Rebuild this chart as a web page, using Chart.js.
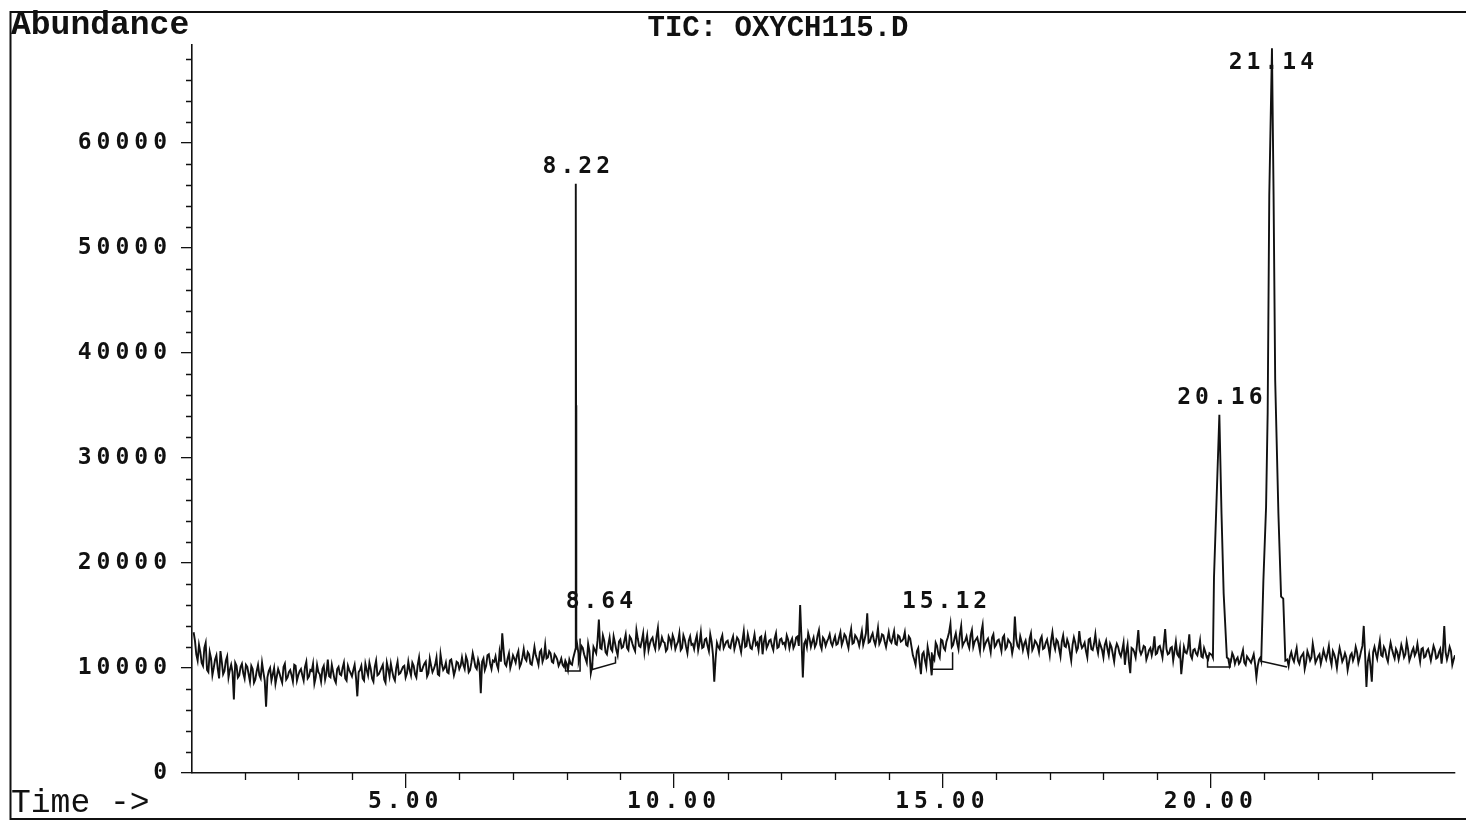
<!DOCTYPE html>
<html><head><meta charset="utf-8">
<script src="https://cdn.jsdelivr.net/npm/chart.js@4.4.1/dist/chart.umd.min.js"></script>
<style>html,body{margin:0;padding:0;background:#fff;}canvas{display:block;}</style>
</head><body>
<canvas id="c" width="1466" height="821"></canvas>
<script>
// ---------- DATA ----------
const chartTitle = 'TIC: OXYCH115.D';
const yTitle = 'Abundance';
const xTitle = 'Time ->';
const xTicks = [5, 10, 15, 20];
const yTicks = [0, 10000, 20000, 30000, 40000, 50000, 60000];
const xMin = 1.02, xMax = 24.55, yMin = 0, yMax = 69300;

// baseline scans A: one value every 0.05 min from 1.05 min (null = replaced by a peak)
const baselineAStart = 1.05, baselineStep = 0.05;
const baselineA = [
 // 1.05 - 2.00
 13400,11300,12200,10500,11900,9800,11500,9300,10800,9900,11600,9400,10700,9100,10300,7000,10200,9300,10400,9000,
 // 2.05 - 3.00
 10100,8700,9900,8900,10300,9000,9600,6300,9700,8800,10000,9200,9500,8600,10400,9100,9800,8700,10200,9300,
 // 3.05 - 4.00
 9900,8800,10600,9200,9700,8500,10300,9400,9900,8900,10800,9100,9600,8600,10100,9300,10500,8800,9800,9200,
 // 4.05 - 5.00
 10300,7300,9800,9000,10400,9300,9900,8700,10700,9400,10000,8900,10500,9200,9700,8800,10600,9500,10100,9100,
 // 5.05 - 6.00
 10600,9300,10200,9100,11000,9700,10400,9200,10900,9600,10300,9400,11300,9800,10500,9500,10800,9300,10600,9900,
 // 6.05 - 7.00
 11000,9900,10700,9800,11400,10100,10800,7600,10900,10200,11300,9900,10600,10300,11500,13300,10400,10900,10000,11200,
 // 7.05 - 8.00
 10500,11600,10400,11800,10700,11300,10300,12000,10800,11500,10600,12200,11000,11400,10500,11100,10200,10900,10100,10400,
 // 8.05 - 9.00
 10800,10300,null,null,11100,11900,10900,12300,9500,12000,11400,14600,11800,12600,11300,12900,11600,12400,11200,12700,
 // 9.05 - 10.00
 12000,13200,11700,12800,11900,13600,12100,12600,11500,13100,12300,12900,11800,13800,12200,12500,11600,13000,12100,12700,
 // 10.05 - 11.00
 12200,13300,11900,12700,11400,13000,12300,12600,11700,13400,12000,12800,11600,12500,8700,12400,11800,13100,12200,12600,
 // 11.05 - 12.00
 11900,13000,12300,12700,11500,13500,12100,12600,11800,13200,12400,12900,11300,13100,12200,12700,11700,13300,12000,12800,
 // 12.05 - 13.00
 12400,13100,11900,12800,12200,13000,16000,9100,12600,13300,12000,12900,12300,13600,11800,12700,12500,13200,12100,13000,
 // 13.05 - 14.00
 12300,13400,12600,13000,11900,13700,12400,12900,12100,13500,12700,15200,12500,13300,12200,13800,12600,13100,12000,13400,
 // 14.05 - 15.00
 12400,13500,12200,13000,12600,13400,12100,12800,11200,10300,11900,9400,11500,10100,11300,9300,10800,12100,11000,12600,
 // 15.05 - 16.00
 11700,12900,14200,12200,13300,11800,14000,12400,13000,11900,13600,12500,12900,11600,14100,12300,12800,11500,13200,12200,
 // 16.05 - 17.00
 12700,11600,13100,12000,12500,11400,14900,12100,13000,11700,12600,11300,13300,12000,12400,11500,13000,11900,12700,11200,
 // 17.05 - 18.00
 13400,11800,12500,11100,13100,12000,12300,10700,12900,11600,13500,11900,12400,11000,12800,11700,13200,11400,12100,11000,
 // 18.05 - 19.00
 12600,11200,12000,10600,12300,11400,11700,10300,12200,9500,11800,11000,13600,11300,12100,10800,11700,11200,13000,11400,
 // 19.05 - 20.00
 12100,11000,13700,11300,11900,10700,12500,11100,9400,12000,11400,13200,10900,11800,11200,12600,11000,11500,10800,11300,
 // 20.05 - 21.00
 null,null,null,null,null,null,10200,11400,10400,11000,10600,11700,10300,10900,10500,11300,9100,10800,null,null,
 // 21.05 - 22.00
 null,null,null,null,null,null,null,null,10200,11500,10600,11900,10400,11200,9900,11600,10700,12300,10500,11100,
 // 22.05 - 23.00
 10400,11700,10800,12100,10300,11300,10000,11900,10600,11400,9800,11200,10700,12000,10500,11600,14000,8200,11300,8700,
 // 23.05 - 24.00
 12000,10900,12600,11100,11700,10600,12400,11300,11800,10800,12200,11000,12500,10700,11600,11200,12300,10600,11900,11100,
 // 24.05 - 24.55
 11800,10700,12100,10900,11500,10400,14000,10800,12000,10300,11200
];

// baseline scans B: the scans in between, one value every 0.05 min from 1.075 min
const baselineBStart = 1.075;
const baselineB = [
 // 1.075 - 2.025
 12600,10700,11500,10200,12400,9600,10900,10000,11200,9000,10600,9700,11100,9800,9600,10500,9100,10100,9500,10300,
 // 2.075 - 3.025
 9400,10200,8600,9700,9300,10500,8800,9100,10000,9400,8500,9900,9000,10100,8900,9600,9300,10300,8800,9700,
 // 3.075 - 4.025
 9300,10100,9000,9800,10400,9100,9600,8700,10200,9500,9200,10300,8900,9900,9400,10000,9000,10200,9500,9800,
 // 4.075 - 5.025
 9100,9600,10200,8800,9800,10500,9000,10100,9300,9700,10300,8600,9900,10400,9100,10000,9400,9800,10200,9500,
 // 5.075 - 6.025
 9800,10500,9400,10300,9700,10100,10600,9500,10200,9900,11000,9300,10400,10000,9600,10700,10100,9800,10500,10200,
 // 6.075 - 7.025
 10300,11100,9600,10500,10800,9900,10300,10600,9800,11200,10400,10700,11100,9900,10600,11700,10200,11400,10500,10900,
 // 7.075 - 8.025
 11200,10100,11000,10900,11500,10400,11100,11200,10300,11700,11000,10900,11600,10600,11300,10800,10500,10300,10700,9800,
 // 8.075 - 9.025
 10400,null,null,10600,12100,11300,10500,11600,10200,11700,12600,11900,13100,11500,12200,11800,13000,11700,12500,11900,
 // 9.075 - 10.025
 12600,11900,13000,12300,11600,12800,12000,13300,12400,11700,12700,12200,13000,11900,12900,12400,11800,12700,13100,11800,
 // 10.075 - 11.025
 12500,11700,13100,12000,12600,12200,11800,13100,12400,11900,12700,12100,13200,11300,10900,12000,12700,11900,12500,12000,
 // 11.075 - 12.025
 12600,11800,12900,12100,12600,12000,13200,11900,12500,12200,11700,13000,12500,11900,12600,12100,12800,11900,12700,12300,
 // 12.075 - 13.025
 12000,12700,12500,11900,12900,12100,12700,12300,12000,12800,12500,12000,13100,12200,12900,12100,12800,12400,12600,12200,
 // 13.075 - 14.025
 12900,12200,13200,12400,13000,12300,13100,12600,12800,12200,13300,12400,13000,12600,12900,12300,13200,12500,12700,12600,
 // 14.075 - 15.025
 12900,12300,13100,12500,12800,12200,13000,12000,10800,11600,10500,11300,10700,12000,10600,11100,12400,11300,12700,11900,
 // 15.075 - 16.025
 12500,13400,12000,12800,12400,13200,12100,12600,12300,13100,12000,12700,12300,13400,11900,12600,12200,12900,12000,12600,
 // 16.075 - 17.025
 12200,12900,11800,12700,12300,12100,12800,11900,12500,12300,11900,12800,11700,12600,12100,12700,11800,12400,12000,12600,
 // 17.075 - 18.025
 12300,12700,11800,12500,12100,12700,11500,12200,12400,11900,12400,12100,11600,12700,11800,12300,12000,12500,11700,12200,
 // 18.075 - 19.025
 11800,12300,11300,11800,12000,11100,12400,11500,10600,11900,11500,12200,11700,11600,12000,11200,11900,11800,11300,12000,
 // 19.075 - 20.025
 11600,12300,11800,11400,12000,11600,11300,11900,10700,11500,11900,11200,11700,11400,11800,11100,11900,11000,11400,11200,
 // 20.075 - 21.025
 null,null,null,null,null,10900,10600,11100,10800,10400,11200,10500,11100,10700,10900,10400,10200,11000,null,null,
 // 21.075 - 22.025
 null,null,null,null,null,null,null,10800,11100,10900,11300,10700,11000,11400,10500,11200,11000,11500,10800,11300,
 // 22.075 - 23.025
 11000,11200,11400,10900,11600,10800,11100,11300,10900,11000,10500,11400,11100,11500,11000,12100,11300,10600,10200,11500,
 // 23.075 - 24.025
 11400,11800,11200,12000,11000,11600,11800,10900,11500,11400,11700,11300,11800,11100,11900,11500,11400,11800,11000,11600,
 // 24.075 - 24.525
 11300,11400,11700,11000,11800,11600,11500,11300,11600,10800
];

// peaks (time in min, abundance)
const peak822Times  = [8.12, 8.165, 8.17, 8.175, 8.18, 8.22];
const peak822Values = [10900, 11800, 56100, 35000, 12800, 11400];
const peak2016Times  = [20.04, 20.06, 20.16, 20.20, 20.24, 20.30];
const peak2016Values = [11000, 18600, 34100, 24700, 17100, 11000];
const peak2114Times  = [20.94, 20.98, 21.03, 21.06, 21.09, 21.14, 21.17, 21.20, 21.26, 21.31, 21.35, 21.39];
const peak2114Values = [10700, 18300, 25300, 34300, 55000, 69000, 55000, 37400, 24700, 16800, 16600, 10700];

// integration baselines
const mark822Times  = [7.98, 7.98, 8.25, 8.25];     const mark822Values  = [10600, 9720, 9720, 12800];
const mark864Times  = [8.48, 8.48, 8.91, 8.91];     const mark864Values  = [10500, 9850, 10480, 11100];
const mark1512Times = [14.80, 14.80, 15.19, 15.19]; const mark1512Values = [11500, 9880, 9880, 11500];
const mark2016Times = [19.94, 19.94, 20.36, 20.36]; const mark2016Values = [11200, 10100, 10100, 10900];
const mark2114Times = [20.92, 21.42];               const mark2114Values = [10670, 10100];

// peak labels
const peakLabels      = ['8.22', '8.64', '15.12', '20.16', '21.14'];
const peakLabelTimes  = [8.17, 8.60, 15.03, 20.16, 21.12];
const peakLabelApex   = [56100, 14700, 14700, 34100, 69000];

// ---------- BUILD ----------
const pts = (ts, vs) => ts.map((t, i) => ({x: t, y: vs[i]}));
const trace = [];
const addScans = (arr, start) => arr.forEach((v, i) => {
  if (v !== null) trace.push({x: +(start + i * baselineStep).toFixed(3), y: v});
});
addScans(baselineA, baselineAStart);
addScans(baselineB, baselineBStart);
trace.push(...pts(peak822Times, peak822Values), ...pts(peak2016Times, peak2016Values), ...pts(peak2114Times, peak2114Values));
trace.sort((a, b) => a.x - b.x);

const INK = '#111';
const markDs = (ts, vs) => ({data: pts(ts, vs), borderColor: INK, borderWidth: 1.5, pointRadius: 0, tension: 0, fill: false});

const MONO_NUM = '"DejaVu Sans Mono", monospace';
const MONO_TXT = '"Liberation Mono", "DejaVu Sans Mono", monospace';

function spacedText(ctx, txt, x, y, font, align, spacing) {
  ctx.save();
  ctx.font = font; ctx.fillStyle = INK; ctx.textAlign = align; ctx.textBaseline = 'middle';
  try { ctx.letterSpacing = spacing; } catch (e) {}
  ctx.fillText(txt, x, y);
  ctx.restore();
}

const decor = {
  id: 'decor',
  afterUpdate(chart) {
    for (const id of ['x', 'y']) {
      const s = chart.scales[id];
      if (s && !s.__patched) {
        const orig = s.drawLabels;
        s.drawLabels = function (area) {
          const c = this.ctx; const prev = c.letterSpacing;
          try { c.letterSpacing = '5px'; } catch (e) {}
          orig.call(this, area);
          try { c.letterSpacing = prev; } catch (e) {}
        };
        s.__patched = true;
      }
    }
  },
  afterDraw(chart) {
    const {ctx} = chart; const x = chart.scales.x, y = chart.scales.y;
    ctx.save();
    ctx.strokeStyle = INK; ctx.lineWidth = 1.3;
    ctx.beginPath();
    for (let m = 2; m <= 23; m++) {
      if (xTicks.includes(m)) continue;
      const px = Math.round(x.getPixelForValue(m)) + 0.5;
      ctx.moveTo(px, y.bottom); ctx.lineTo(px, y.bottom + 7);
    }
    for (let v = 2000; v <= 68000; v += 2000) {
      if (v % 10000 === 0) continue;
      const py = Math.round(y.getPixelForValue(v)) + 0.5;
      ctx.moveTo(x.left - 6, py); ctx.lineTo(x.left, py);
    }
    ctx.stroke();
    // outer frame
    ctx.lineWidth = 2;
    ctx.beginPath();
    ctx.moveTo(1466, 12); ctx.lineTo(10.5, 12); ctx.lineTo(10.5, 819); ctx.lineTo(1466, 819);
    ctx.stroke();
    ctx.restore();

    spacedText(ctx, yTitle, 11, 26, 'bold 33px ' + MONO_TXT, 'left', '0px');
    spacedText(ctx, chartTitle, 778, 29, 'bold 29px ' + MONO_TXT, 'center', '0px');
    spacedText(ctx, xTitle, 11, 803, '33px ' + MONO_TXT, 'left', '0px');

    peakLabels.forEach((lab, i) => {
      const px = x.getPixelForValue(peakLabelTimes[i]);
      const py = Math.max(y.getPixelForValue(peakLabelApex[i]) - 17, 63);
      spacedText(ctx, lab, px + 2.5, py, 'bold 23px ' + MONO_NUM, 'center', '4px');
    });
  }
};

new Chart(document.getElementById('c'), {
  type: 'line',
  data: {
    datasets: [
      {data: trace, borderColor: INK, borderWidth: 1.9, pointRadius: 0, tension: 0, fill: false},
      markDs(mark822Times, mark822Values),
      markDs(mark864Times, mark864Values),
      markDs(mark1512Times, mark1512Values),
      markDs(mark2016Times, mark2016Values),
      markDs(mark2114Times, mark2114Values)
    ]
  },
  options: {
    responsive: false, animation: false, parsing: true,
    layout: {padding: {left: 0, right: 11, top: 45, bottom: 0}},
    plugins: {legend: {display: false}, tooltip: {enabled: false}, title: {display: false}},
    elements: {line: {borderJoinStyle: 'miter'}},
    scales: {
      x: {
        type: 'linear', min: xMin, max: xMax,
        afterBuildTicks: s => { s.ticks = xTicks.map(v => ({value: v})); },
        afterFit: s => { s.height = 48; },
        ticks: {callback: v => v.toFixed(2), color: INK, font: {family: MONO_NUM, size: 23, weight: 'bold'}, padding: 0, maxRotation: 0, autoSkip: false},
        grid: {drawOnChartArea: false, drawTicks: true, tickLength: 15, color: INK, lineWidth: 1.3},
        border: {display: true, color: INK, width: 1.6}
      },
      y: {
        type: 'linear', min: yMin, max: yMax,
        afterBuildTicks: s => { s.ticks = yTicks.map(v => ({value: v})); },
        afterFit: s => { s.width = 192; },
        ticks: {callback: v => String(v), color: INK, font: {family: MONO_NUM, size: 23, weight: 'bold'}, padding: 9, autoSkip: false},
        grid: {drawOnChartArea: false, drawTicks: true, tickLength: 11, color: INK, lineWidth: 1.3},
        border: {display: true, color: INK, width: 1.6}
      }
    }
  },
  plugins: [decor]
});
</script>
</body></html>
